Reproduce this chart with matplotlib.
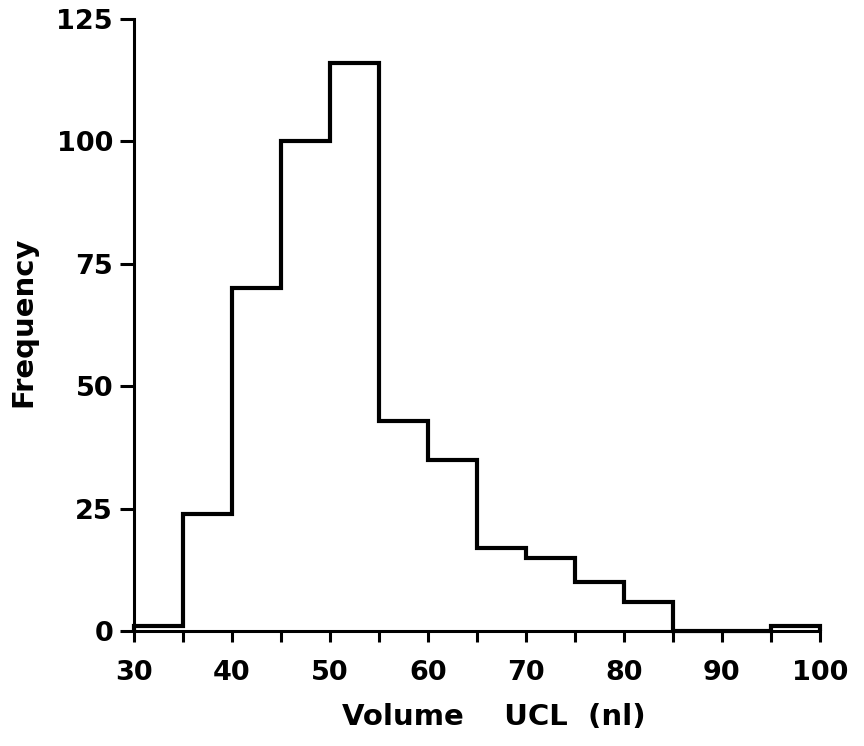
import matplotlib
matplotlib.use('Agg')
import matplotlib.pyplot as plt

# Bin edges (nl) and counts per bin
bin_edges = [30, 35, 40, 45, 50, 55, 60, 65, 70, 75, 80, 85, 90, 95, 100]
counts = [1, 24, 70, 100, 116, 43, 35, 17, 15, 10, 6, 0, 0, 1]

x_ticks = [30, 40, 50, 60, 70, 80, 90, 100]
x_minor = [35, 45, 55, 65, 75, 85, 95]
y_ticks = [0, 25, 50, 75, 100, 125]

plt.rcParams['font.family'] = 'DejaVu Sans'
plt.rcParams['font.weight'] = 'bold'

fig = plt.figure(figsize=(8.64, 7.46), dpi=100)
ax = fig.add_axes([0.155, 0.154, 0.794, 0.8205])

ax.stairs(counts, bin_edges, baseline=0, fill=False, color='black',
          linewidth=3.0, clip_on=False)

ax.set_xlim(30, 100)
ax.set_ylim(0, 125)

for side in ['top', 'right']:
    ax.spines[side].set_visible(False)
for side in ['left', 'bottom']:
    ax.spines[side].set_linewidth(2.2)

ax.set_xticks(x_ticks)
ax.set_xticks(x_minor, minor=True)
ax.set_yticks(y_ticks)
ax.tick_params(axis='both', which='both', direction='out', width=2.2,
               labelsize=19.5, colors='black')
ax.tick_params(axis='x', which='both', length=8, pad=13)
ax.tick_params(axis='y', length=10, pad=5)

ax.set_ylabel('Frequency', fontsize=21, fontweight='bold')
ax.yaxis.set_label_coords(-0.141, 0.505)
ax.set_xlabel('Volume    UCL  (nl)', fontsize=21, fontweight='bold')
ax.xaxis.set_label_coords(0.525, -0.118)

fig.savefig('out.png', dpi=100)
